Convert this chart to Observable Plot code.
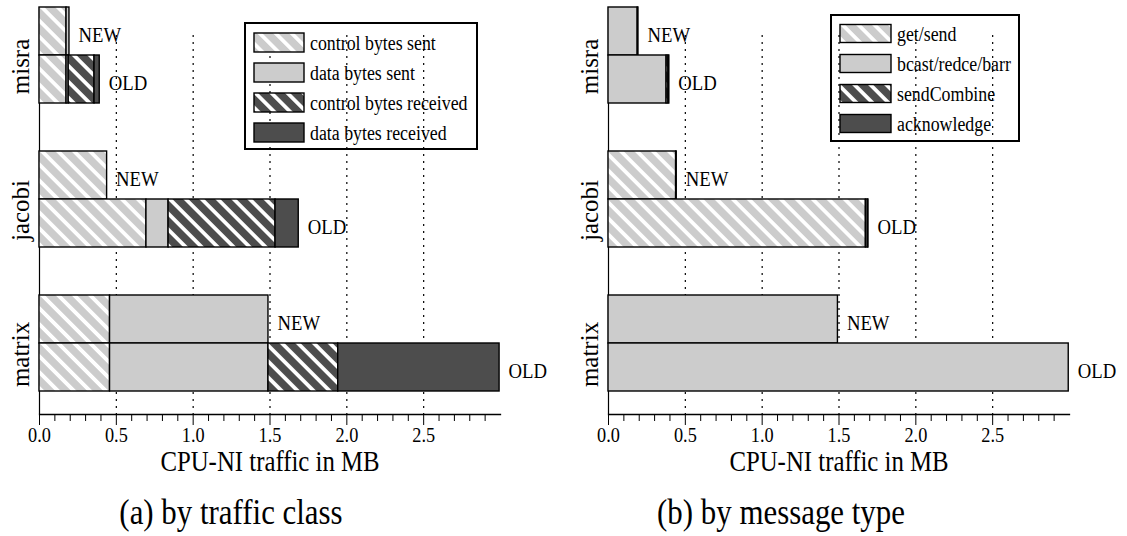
<!DOCTYPE html>
<html><head><meta charset="utf-8">
<script src="https://cdn.jsdelivr.net/npm/d3@7"></script>
<script src="https://cdn.jsdelivr.net/npm/@observablehq/plot@0.6"></script>
<style>
body{margin:0;background:#fff;font-family:"Liberation Serif","Times New Roman",serif;}
#wrap{position:relative;width:1127px;height:536px;overflow:hidden;}
.panel{position:absolute;top:0;}
.cap{position:absolute;top:493px;height:38px;line-height:38px;font-size:35.5px;text-align:center;width:360px;transform:scaleX(0.87);transform-origin:50% 50%;}
.legend{position:absolute;top:0;left:0;pointer-events:none;}
</style></head><body><div id="wrap"></div>
<script>
// ---------- data ----------
const benchmarks = ["misra", "jacobi", "matrix"];
const versions = ["NEW", "OLD"];
// bar order: misra NEW, misra OLD, jacobi NEW, jacobi OLD, matrix NEW, matrix OLD
const trafficClasses = ["control bytes sent", "data bytes sent", "control bytes received", "data bytes received"];
const controlBytesSent     = [0.176, 0.176, 0.440, 0.696, 0.459, 0.459];
const dataBytesSent        = [0.019, 0.014, 0.000, 0.144, 1.031, 1.031];
const controlBytesReceived = [0.000, 0.168, 0.000, 0.696, 0.000, 0.454];
const dataBytesReceived    = [0.000, 0.034, 0.000, 0.151, 0.000, 1.050];

const messageTypes = ["get/send", "bcast/redce/barr", "sendCombine", "acknowledge"];
const getSend     = [0.000, 0.000, 0.440, 1.675, 0.000, 0.000];
const bcastRedce  = [0.190, 0.378, 0.000, 0.012, 1.493, 2.995];
const sendCombine = [0.000, 0.012, 0.000, 0.000, 0.000, 0.000];
const acknowledge = [0.005, 0.006, 0.004, 0.005, 0.000, 0.000];

const xTicks = [0, 0.5, 1.0, 1.5, 2.0, 2.5];
const xTickLabels = ["0.0", "0.5", "1.0", "1.5", "2.0", "2.5"];
const xMinorTicks = [0.1,0.2,0.3,0.4,0.6,0.7,0.8,0.9,1.1,1.2,1.3,1.4,1.6,1.7,1.8,1.9,2.1,2.2,2.3,2.4,2.6,2.7,2.8,2.9];
const xLabel = "CPU-NI traffic in MB";
const captions = ["(a) by traffic class", "(b) by message type"];

// ---------- styles ----------
const LIGHT = "#cccccc", DARK = "#4d4d4d";
const fills = ["url(#hatchLight)", LIGHT, "url(#hatchDark)", DARK];
const FONT = "Liberation Serif, Times New Roman, serif";
const NARROW = 0.87; // glyphs in the reference are horizontally condensed

// pattern defs
const defs = d3.select("body").append("svg").attr("width", 0).attr("height", 0)
  .style("position", "absolute").append("defs");
function hatch(id, bg) {
  const p = defs.append("pattern").attr("id", id).attr("patternUnits", "userSpaceOnUse")
    .attr("width", 11.3).attr("height", 11.3).attr("patternTransform", "rotate(-45)");
  p.append("rect").attr("width", 11.3).attr("height", 11.3).attr("fill", bg);
  p.append("rect").attr("width", 3.8).attr("height", 11.3).attr("fill", "#fff");
}
hatch("hatchLight", LIGHT);
hatch("hatchDark", DARK);

// y keys with spacer bands between benchmark groups
const yKeys = [];
benchmarks.forEach((b, i) => { if (i > 0) yKeys.push("gap" + i); versions.forEach(v => yKeys.push(b + " " + v)); });

function buildRows(series, names) {
  const rows = [], totals = [];
  benchmarks.forEach((b, bi) => versions.forEach((v, vi) => {
    const idx = bi * 2 + vi;
    let tot = 0;
    names.forEach((n, ni) => {
      const val = series[ni][idx];
      tot += val;
      if (val > 0) rows.push({key: b + " " + v, cls: n, value: val});
    });
    totals.push({key: b + " " + v, version: v, total: tot});
  }));
  return {rows, totals};
}

const H = 488, AXIS_Y = 414;
function chart(series, names, width, mLeft, mRight) {
  const {rows, totals} = buildRows(series, names);
  return Plot.plot({
    width, height: H,
    marginLeft: mLeft, marginRight: mRight, marginTop: 0, marginBottom: H - AXIS_Y,
    style: {fontFamily: FONT, background: "#fff", overflow: "visible"},
    x: {domain: [0, 3]},
    y: {domain: yKeys, paddingInner: 0, paddingOuter: 0.3125, align: 0.2333, round: false, axis: null},
    color: {domain: names, range: fills},
    marks: [
      Plot.ruleX(xTicks.slice(1), {insetTop: 35, stroke: "#000", strokeWidth: 1.2, strokeDasharray: "2,5"}),
      Plot.ruleX([0], {insetTop: 7, stroke: "#000", strokeWidth: 1.2}),
      Plot.frame({anchor: "bottom", stroke: "#000", strokeWidth: 1.3}),
      Plot.barX(rows, {x: "value", y: "key", fill: "cls", stroke: "#000", strokeWidth: 1.4}),
      Plot.text(totals, {x: "total", y: "key", text: "version", dx: 9, dy: 4, textAnchor: "start", fontSize: 21.5}),
      Plot.text(benchmarks, {y: d => d + " NEW", text: d => d, frameAnchor: "left", textAnchor: "middle",
        dx: -19, dy: 35, rotate: -90, fontSize: 25}),
      Plot.axisX(xMinorTicks, {tickSize: 7, tickFormat: () => "", strokeWidth: 1}),
      Plot.axisX(xTicks, {tickSize: 11, tickPadding: 2, strokeWidth: 1, fontSize: 21,
        tickFormat: d => xTickLabels[xTicks.indexOf(d)], label: null}),
      Plot.text([xLabel], {frameAnchor: "bottom", dy: 56, fontSize: 28.5})
    ]
  });
}

const wrap = d3.select("#wrap");
const p1 = chart([controlBytesSent, dataBytesSent, controlBytesReceived, dataBytesReceived], trafficClasses, 563, 39, 63);
const p2 = chart([getSend, bcastRedce, sendCombine, acknowledge], messageTypes, 564, 45, 58);
const d1 = wrap.append("div").attr("class", "panel").style("left", "0px"); d1.node().appendChild(p1);
const d2 = wrap.append("div").attr("class", "panel").style("left", "563px"); d2.node().appendChild(p2);

// legends
function legend(names, box, sw, textX, rowY, swH) {
  const s = wrap.append("svg").attr("class", "legend").attr("width", 1127).attr("height", 536);
  s.append("rect").attr("x", box[0]).attr("y", box[1]).attr("width", box[2] - box[0]).attr("height", box[3] - box[1])
    .attr("fill", "none").attr("stroke", "#000").attr("stroke-width", 2);
  names.forEach((n, i) => {
    const cy = rowY[0] + i * rowY[1];
    s.append("rect").attr("x", sw[0]).attr("y", cy - swH / 2).attr("width", sw[1] - sw[0]).attr("height", swH)
      .attr("fill", fills[i]).attr("stroke", "#000").attr("stroke-width", 1.4);
    s.append("text").attr("x", textX).attr("y", cy).attr("dy", "0.35em")
      .style("font-family", FONT).style("font-size", "20.5px").text(n);
  });
}
legend(trafficClasses, [245, 23, 477, 149], [254, 304], 310, [42.5, 30], 19);
legend(messageTypes, [831, 15, 1019, 141], [840, 891], 897, [33.5, 30], 18);

// condense horizontal (non-rotated) text to match the narrow glyphs of the reference
d3.selectAll("#wrap svg text").each(function() {
  const t = this.getAttribute("transform") || "";
  const parentT = (this.parentNode && this.parentNode.getAttribute && this.parentNode.getAttribute("transform")) || "";
  if (t.includes("rotate") || parentT.includes("rotate")) return;
  const len = this.getComputedTextLength();
  if (len > 0) {
    this.setAttribute("textLength", (len * NARROW).toFixed(2));
    this.setAttribute("lengthAdjust", "spacingAndGlyphs");
  }
});

// captions
wrap.append("div").attr("class", "cap").style("left", (231 - 180) + "px").text(captions[0]);
wrap.append("div").attr("class", "cap").style("left", (781 - 180) + "px").text(captions[1]);
</script></body></html>
